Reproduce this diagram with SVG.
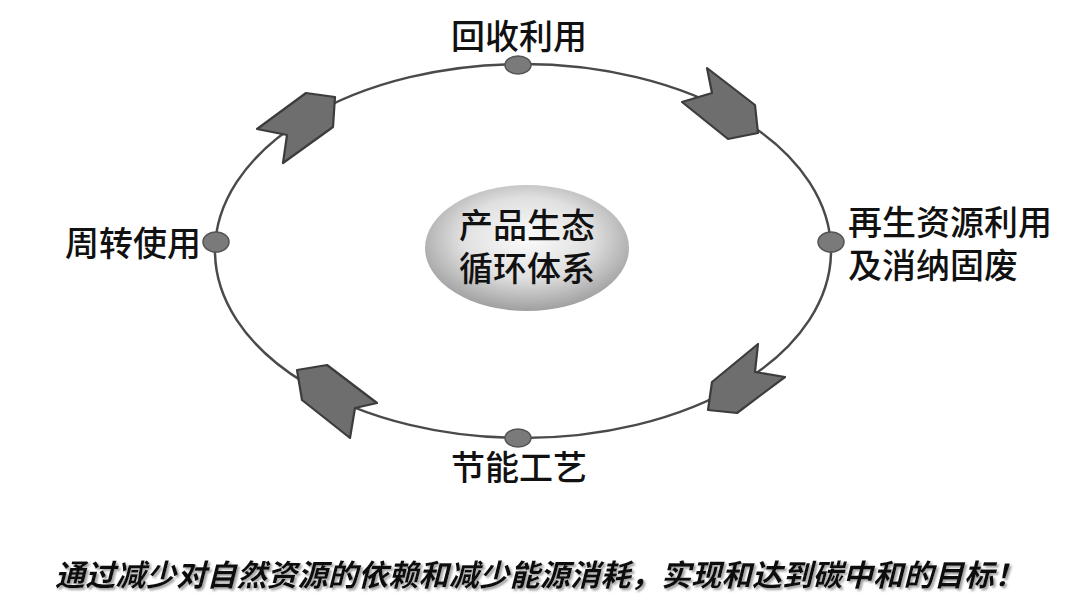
<svg xmlns="http://www.w3.org/2000/svg" width="1080" height="614" viewBox="0 0 1080 614">
  <style>
    .lbl { font-family: "Noto Sans CJK SC", "Noto Sans", sans-serif; font-size: 34px; font-weight: 500; fill: #111; }
    .ctr { font-family: "Noto Sans CJK SC", "Noto Sans", sans-serif; font-size: 34px; font-weight: 500; fill: #111; }
    .foot { font-family: "Noto Sans CJK SC", "Noto Sans", sans-serif; font-size: 30px; font-weight: bold; font-style: italic; letter-spacing: 0.3px; fill: #111; }
    .chev { fill: #6e6e6e; stroke: #3c3c3c; stroke-width: 2.2; stroke-linejoin: round; }
    .dot { fill: #7a7a7a; stroke: #555; stroke-width: 1.5; }
  </style>
  <defs>
    <radialGradient id="cg" cx="50%" cy="42%" r="58%">
      <stop offset="0" stop-color="#fbfbfb"/>
      <stop offset="0.55" stop-color="#e0e0e0"/>
      <stop offset="1" stop-color="#9f9f9f"/>
    </radialGradient>
    <filter id="sh" x="-5%" y="-30%" width="110%" height="160%">
      <feDropShadow dx="2" dy="2" stdDeviation="1.2" flood-color="#888" flood-opacity="0.8"/>
    </filter>
  </defs>
  <rect width="1080" height="614" fill="#fff"/>

  <g id="connectors">
    <ellipse cx="523" cy="251" rx="308" ry="187" fill="none" stroke="#4a4a4a" stroke-width="2.5"/>
    <polygon class="chev" points="707,68 755,105 758,133 728,139 682,102 712,93"/>
    <polygon class="chev" points="758,344 755,372 785,377 737,413 708,410 712,382"/>
    <polygon class="chev" points="297,370 327,365 377,403 355,408 350,438 302,400"/>
    <polygon class="chev" points="257,129 306,93 335,97 333,127 283,163 287,135"/>
  </g>

  <g id="center">
    <ellipse cx="527" cy="248" rx="102" ry="63" fill="url(#cg)"/>
    <text class="ctr" text-anchor="middle"><tspan x="527" y="238">产品生态</tspan><tspan x="527" y="281">循环体系</tspan></text>
  </g>

  <g id="node-top">
    <ellipse class="dot" cx="518" cy="65" rx="13" ry="9"/>
    <text class="lbl" x="519" y="49" text-anchor="middle">回收利用</text>
  </g>
  <g id="node-right">
    <ellipse class="dot" cx="831" cy="242" rx="13" ry="10"/>
    <text class="lbl"><tspan x="848" y="235">再生资源利用</tspan><tspan x="848" y="278">及消纳固废</tspan></text>
  </g>
  <g id="node-bottom">
    <ellipse class="dot" cx="518" cy="438" rx="13" ry="9"/>
    <text class="lbl" x="519" y="480" text-anchor="middle">节能工艺</text>
  </g>
  <g id="node-left">
    <ellipse class="dot" cx="216" cy="242" rx="13" ry="10"/>
    <text class="lbl" x="201" y="256" text-anchor="end">周转使用</text>
  </g>

  <g id="footer">
    <text class="foot" x="55" y="586" filter="url(#sh)">通过减少对自然资源的依赖和减少能源消耗，实现和达到碳中和的目标！</text>
  </g>
</svg>
